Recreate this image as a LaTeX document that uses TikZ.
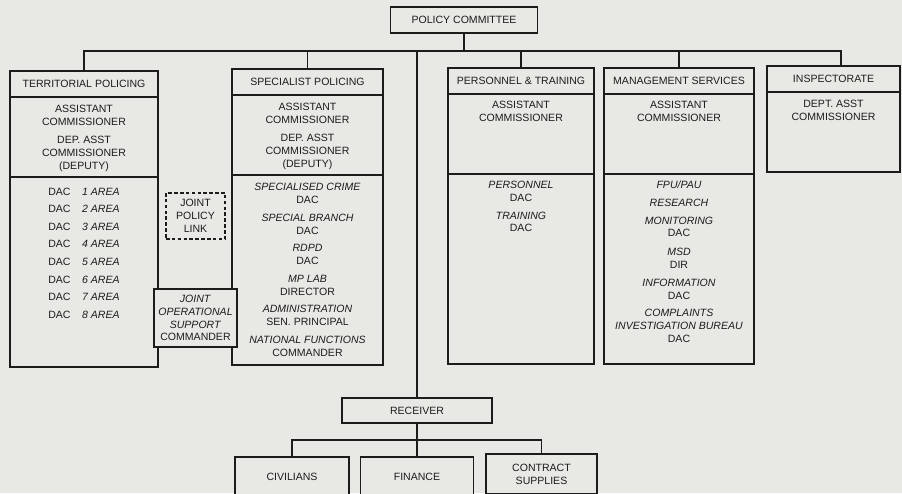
\documentclass[tikz,border=0pt]{standalone}
\usepackage{fontspec}
\setmainfont{Liberation Sans}
\usepackage{xcolor}
\usepackage{tikz}
\usetikzlibrary{positioning}
\definecolor{paper}{RGB}{232,232,229}
\definecolor{ink}{RGB}{28,28,28}

\begin{document}
\begin{tikzpicture}[
    x=0.03cm, y=-0.03cm,
    every node/.style={font=\fontsize{9}{11}\selectfont, text=ink},
    head/.style={rectangle, draw=ink, line width=1.3pt, minimum height=0.78cm, inner sep=0pt, outer sep=0pt},
    section/.style={rectangle, draw=ink, line width=1.3pt, inner sep=0pt, outer sep=0pt},
    mid/.style={section, minimum height=2.4cm},
    list/.style={section, minimum height=5.7cm},
    entry/.style={align=center, inner sep=0pt},
    unit/.style={rectangle, draw=ink, line width=1.3pt, fill=paper, align=center, inner sep=0pt, outer sep=0pt},
    link/.style={rectangle, draw=ink, line width=1pt, dash pattern=on 3pt off 2pt, align=center, inner sep=0pt},
    wire/.style={draw=ink, line width=1.3pt}
]
    \useasboundingbox (0,0) rectangle (902,493);
    \clip (0,0) rectangle (902,493);
    \fill[paper] (0,0) rectangle (902,493);

    % Top: policy committee
    \node [unit, minimum width=4.41cm, minimum height=0.78cm] (policy) at (464,20) {POLICY COMMITTEE};

    % Territorial policing
    \node [head, minimum width=4.44cm] (tp_head) at (84,84) {TERRITORIAL POLICING};
    \node [mid, minimum width=4.44cm, below=0pt of tp_head] (tp_mid) {};
    \node [list, minimum width=4.44cm, below=0pt of tp_mid] (tp_list) {};
    \node [entry, below=7pt of tp_mid.north] (tp_ac) {ASSISTANT\\COMMISSIONER\\[4pt]DEP. ASST\\COMMISSIONER\\(DEPUTY)};
    \node [entry, below=9pt of tp_list.north] (tp_areas) {DAC\hspace{1.1em}\textit{1 AREA}\\[4pt]DAC\hspace{1.1em}\textit{2 AREA}\\[4pt]DAC\hspace{1.1em}\textit{3 AREA}\\[4pt]DAC\hspace{1.1em}\textit{4 AREA}\\[4pt]DAC\hspace{1.1em}\textit{5 AREA}\\[4pt]DAC\hspace{1.1em}\textit{6 AREA}\\[4pt]DAC\hspace{1.1em}\textit{7 AREA}\\[4pt]DAC\hspace{1.1em}\textit{8 AREA}};

    % Specialist policing
    \node [head, minimum width=4.53cm] (sp_head) at (307.5,82) {SPECIALIST POLICING};
    \node [mid, minimum width=4.53cm, below=0pt of sp_head] (sp_mid) {};
    \node [list, minimum width=4.53cm, below=0pt of sp_mid] (sp_list) {};
    \node [entry, below=7pt of sp_mid.north] (sp_ac) {ASSISTANT\\COMMISSIONER\\[4pt]DEP. ASST\\COMMISSIONER\\(DEPUTY)};
    \node [entry, below=7pt of sp_list.north] (sp_units) {\textit{SPECIALISED CRIME}\\DAC\\[4pt]\textit{SPECIAL BRANCH}\\DAC\\[4pt]\textit{RDPD}\\DAC\\[4pt]\textit{MP LAB}\\DIRECTOR\\[4pt]\textit{ADMINISTRATION}\\SEN. PRINCIPAL\\[4pt]\textit{NATIONAL FUNCTIONS}\\COMMANDER};

    % Personnel & training
    \node [head, minimum width=4.38cm] (pt_head) at (521,81) {PERSONNEL \& TRAINING};
    \node [mid, minimum width=4.38cm, below=0pt of pt_head] (pt_mid) {};
    \node [list, minimum width=4.38cm, below=0pt of pt_mid] (pt_list) {};
    \node [entry, below=6pt of pt_mid.north] (pt_ac) {ASSISTANT\\COMMISSIONER};
    \node [entry, below=6pt of pt_list.north] (pt_units) {\textit{PERSONNEL}\\DAC\\[4pt]\textit{TRAINING}\\DAC};

    % Management services
    \node [head, minimum width=4.5cm] (ms_head) at (679,81) {MANAGEMENT SERVICES};
    \node [mid, minimum width=4.5cm, below=0pt of ms_head] (ms_mid) {};
    \node [list, minimum width=4.5cm, below=0pt of ms_mid] (ms_list) {};
    \node [entry, below=6pt of ms_mid.north] (ms_ac) {ASSISTANT\\COMMISSIONER};
    \node [entry, below=6pt of ms_list.north] (ms_units) {\textit{FPU/PAU}\\[4pt]\textit{RESEARCH}\\[4pt]\textit{MONITORING}\\DAC\\[5pt]\textit{MSD}\\DIR\\[4pt]\textit{INFORMATION}\\DAC\\[4pt]\textit{COMPLAINTS}\\\textit{INVESTIGATION BUREAU}\\DAC};

    % Inspectorate
    \node [head, minimum width=3.99cm] (in_head) at (833.5,79) {INSPECTORATE};
    \node [mid, minimum width=3.99cm, below=0pt of in_head] (in_mid) {};
    \node [entry, below=7pt of in_mid.north] (in_ac) {DEPT. ASST\\COMMISSIONER};

    % Joint links between the two policing departments
    \node [link, minimum width=1.77cm, minimum height=1.38cm] (jpl) at (195.5,216) {JOINT\\POLICY\\LINK};
    \node [unit, minimum width=2.49cm, minimum height=1.74cm] (josc) at (195.5,318) {\textit{JOINT}\\\textit{OPERATIONAL}\\\textit{SUPPORT}\\COMMANDER};

    % Receiver and its branches
    \node [unit, minimum width=4.5cm, minimum height=0.75cm] (receiver) at (417,410.5) {RECEIVER};
    \node [unit, minimum width=3.42cm, minimum height=1.2cm] (civilians) at (292,477) {CIVILIANS};
    \node [unit, minimum width=3.39cm, minimum height=1.2cm] (finance) at (417,477) {FINANCE};
    \node [unit, minimum width=3.33cm, minimum height=1.2cm] (contract) at (541.5,474) {CONTRACT\\SUPPLIES};

    % Committee bus
    \coordinate (bus) at (464,51);
    \draw [wire] (policy) -- (bus);
    \draw [wire] (tp_head.north) |- (bus) -| ([xshift=0.225cm]in_head.north);
    \draw [wire] (sp_head.north) -- (sp_head.north |- bus);
    \draw [wire] (pt_head.north) -- (pt_head.north |- bus);
    \draw [wire] (ms_head.north) -- (ms_head.north |- bus);
    \draw [wire] (receiver.north) -- (receiver.north |- bus);

    % Receiver bus
    \coordinate (lbus) at (417,440);
    \draw [wire] (receiver) -- (finance);
    \draw [wire] (civilians.north) |- (lbus) -| (contract.north);
\end{tikzpicture}
\end{document}
